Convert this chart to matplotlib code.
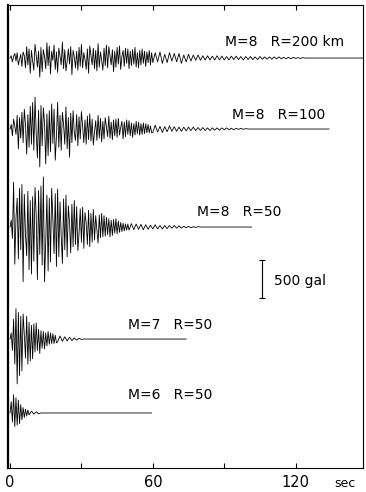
import numpy as np
import matplotlib.pyplot as plt

# accelerograms, values in gal
# strong part sampled every 0.5 s, coda every 1 s, then flat to the end
labels = ["M=8   R=200 km", "M=8   R=100", "M=8   R=50", "M=7   R=50", "M=6   R=50"]
baselines = [5395, 4461, 3171, 1697, 724]
t_ends = [148.3, 134.0, 101.5, 74.0, 59.5]
label_xy = [(90.2, 5606), (93.1, 4645), (78.4, 3369), (49.4, 1882), (49.4, 961)]

strong_1 = [0, 30, -50, 20, 60, -40, 70, -90, -20, 50,
            -110, 80, 30, -130, 150, -90, 120, -200, 100, -40,
            -160, 180, 40, -120, 90, -250, 140, -180, 110, 20,
            -140, 200, -100, 160, -210, 90, -30, 170, -150, 80,
            -190, 130, 30, -90, 210, -140, 110, -170, -40, 120,
            -80, 150, -220, 100, 20, -130, 90, -160, 140, -110,
            180, -130, 70, -20, -150, 120, -200, 160, 40, -90,
            130, -140, 100, -170, 190, -120, 80, -30, -160, 130,
            -100, 170, -130, 150, 30, -90, 110, -180, 90, -120,
            140, -80, 160, -150, 20, 100, -110, 130, -70, 120,
            -140, 90, -100, 110, -80, 140, -120, 70, -130, 100,
            -90, 120, -70, 90, -110, 80, -60, 100, -90, 70]
coda_1 = [-60, 70, -50, 80, -70, 50, -60, 70, -40, 60,
          -50, 60, -70, 40, -50, 50, -40, 40, -30, 40,
          -30, 30, -25, 30, -25, 25, -25, 30, -25, 25,
          -25, 20, -25, 25, -20, 25, -20, 20, -25, 20,
          -20, 20, -20, 15, -20, 20, -15, 15, -15, 15,
          -15, 15, -10, 15, -10, 10, -10, 10, -10, 10,
          -5, 5, -5, 5, 0]

strong_2 = [0, 60, -90, 130, 40, -70, 180, -260, 150, -120,
            220, -180, 260, 60, -330, 190, -240, 300, -200, 350,
            -280, 420, -60, -380, 250, -500, 310, -220, 280, 80,
            -460, 200, -350, 240, -300, 330, -190, 260, -410, -100,
            350, -240, 180, -280, 220, 60, -200, 290, -260, 150,
            -370, 210, -180, 240, -50, -150, 190, -220, 160, -130,
            230, 40, -180, 120, -200, 170, -140, 200, -160, 130,
            -210, -40, 110, -150, 180, -120, 140, -170, 100, -130,
            150, 30, -100, 170, -120, 90, -140, 120, -90, 130,
            -110, 140, -80, 20, 100, -130, 90, -100, 120, -70,
            110, -90, 80, -110, 70, -80, 100, -60, 90, -80,
            70, -70, 80, -60, 70, -50, 60, -50, 40, -50]
coda_2 = [-45, 50, -40, 35, -45, 30, -35, 40, -30, 30,
          -30, 25, -30, 25, -25, 25, -20, 25, -20, 20,
          -20, 20, -20, 15, -20, 15, -15, 15, -15, 15,
          -10, 15, -10, 10, -10, 10, -5, 10, -5, 5, 0]

strong_3 = [0, 90, -150, 590, -490, 120, 380, -420, 510, -300,
            560, -720, 430, -100, -380, 470, -560, 350, -620, 400,
            -450, 520, 150, -690, 480, -360, 540, -500, 660, -720,
            -200, 420, -580, 380, -460, 510, 100, -350, 440, -520,
            500, -390, 330, -120, -480, 370, -300, 420, -390, 280,
            60, -340, 300, -260, 350, -230, 270, -310, -80, 240,
            -200, 260, -280, 190, 50, -230, 220, -260, 180, -200,
            230, -170, 150, -40, -210, 160, -140, 180, -130, 150,
            -120, 130, -100, 110, -130, 90, -110, 100, -80, 110,
            -90, 80, -70, 60, -60, 50, -50, 40, -40, 40]
coda_3 = [-40, 45, -35, 40, -30, 35, -35, 30, -30, 25,
          -25, 30, -25, 20, -25, 20, -20, 20, -15, 20,
          -15, 15, -15, 10, -10, 10, -10, 5, -5, 5, 0]

strong_4 = [0, 80, -150, 260, -330, 400, -590, 350, -480, 300,
            -420, 330, 60, -250, 300, -330, 220, -290, 180, -260,
            200, -170, 210, -150, 130, -190, 110, -120, 100, -130,
            80, -90, 100, -70, 80, -60, 70, -60, 50, -50]
coda_4 = [-35, 40, -30, 30, -25, 25, -20, 15, -15, 10, -5, 0]

strong_5 = [0, 150, -120, 240, -180, 200, -160, 170, -140, 110,
            -90, 70, -60, 50, -40, 40]
coda_5 = [-25, 25, -15, 15, -10, 0]

strongs = [strong_1, strong_2, strong_3, strong_4, strong_5]
codas = [coda_1, coda_2, coda_3, coda_4, coda_5]

fig = plt.figure(figsize=(3.66, 4.92), dpi=100)
ax = fig.add_axes([8 / 366, 24 / 492, 355 / 366, 463 / 492])

for s, c, base, t_end in zip(strongs, codas, baselines, t_ends):
    t1 = np.arange(len(s)) * 0.5
    t2 = t1[-1] + 0.5 + np.arange(len(c)) * 1.0
    t = np.concatenate([t1, t2, [t_end]])
    a = np.concatenate([s, c, [0]])
    ax.plot(t, base + a, color="black", lw=0.6)

for lab, (x, y) in zip(labels, label_xy):
    ax.text(x, y, lab, fontsize=10, va="center", ha="left")

# 500 gal scale bar
ax.errorbar([106], [2490], yerr=[250], color="black", lw=0.8, capsize=2.5, capthick=0.8)
ax.text(110.8, 2461, "500 gal", fontsize=10, va="center", ha="left")

ax.set_xlim(-0.85, 148.3)
ax.set_ylim(0, 6093)
ax.set_yticks([])
ax.set_xticks([0, 30, 60, 90, 120])
ax.set_xticklabels(["0", "", "60", "", "120"], fontsize=10.5)
ax.tick_params(axis="x", direction="in", length=3.5, width=0.8, top=True, pad=5)
ax.text(140.6, -200, "sec", fontsize=9, ha="center", va="center")

for side in ["top", "bottom", "right"]:
    ax.spines[side].set_linewidth(0.8)
ax.spines["left"].set_linewidth(1.6)

fig.savefig("out.png", dpi=100)
